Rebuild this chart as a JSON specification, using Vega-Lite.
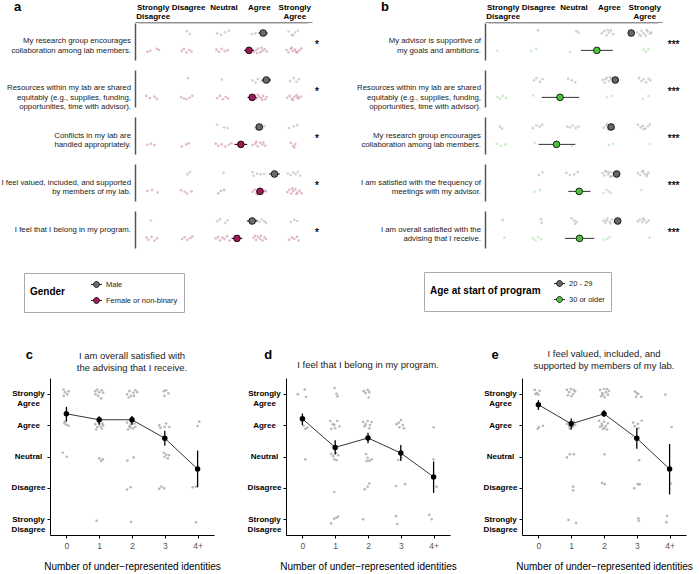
{
  "$schema": "https://vega.github.io/schema/vega-lite/v6.json",
  "padding": {"left": 1, "top": 1, "right": 0, "bottom": 0},
  "config": {
    "font": "Liberation Sans",
    "view": {"stroke": null},
    "axis": {"grid": false, "labelOverlap": false},
    "title": {"color": "black"}
  },
  "resolve": {"scale": {"color": "independent"}, "legend": {"color": "independent"}},
  "spacing": 36,
  "vconcat": [
    {
      "spacing": 38,
      "resolve": {"scale": {"color": "independent"}, "legend": {"color": "independent"}},
      "hconcat": [
        {
          "spacing": 4,
          "hconcat": [
            {
              "width": 81,
              "height": 225,
              "title": {"text": "a", "anchor": "start", "frame": "group", "fontSize": 13, "fontWeight": "bold", "dx": -36, "offset": 9},
              "data": {"values": [
                {"q": 1, "t": ["My research group encourages", "collaboration among lab members."]},
                {"q": 2, "t": ["Resources within my lab are shared", "equitably (e.g., supplies, funding,", "opportunities, time with advisor)."]},
                {"q": 3, "t": ["Conflicts in my lab are", "handled appropriately."]},
                {"q": 4, "t": ["I feel valued, included, and supported", "by members of my lab."]},
                {"q": 5, "t": ["I feel that I belong in my program."]}
              ]},
              "mark": {"type": "text", "align": "right", "baseline": "middle", "fontSize": 7.8, "lineHeight": 9.5, "color": "#222"},
              "encoding": {
                "x": {"datum": 1, "type": "quantitative", "scale": {"domain": [0, 1]}, "axis": null},
                "y": {"field": "q", "type": "ordinal", "scale": {"type": "point", "padding": 0.3936}, "axis": null},
                "text": {"field": "t"}
              }
            },
            {
              "data": {"values": [
                {"q":1,"g":"M","x":1.96,"y":0.78},{"q":1,"g":"M","x":2.05,"y":0.70},{"q":1,"g":"M","x":2.82,"y":0.72},{"q":1,"g":"M","x":2.93,"y":0.68},{"q":1,"g":"M","x":3.04,"y":0.75},{"q":1,"g":"M","x":3.15,"y":0.79},{"q":1,"g":"M","x":3.8,"y":0.70},{"q":1,"g":"M","x":3.9,"y":0.72},{"q":1,"g":"M","x":4.05,"y":0.76},{"q":1,"g":"M","x":4.2,"y":0.69},{"q":1,"g":"M","x":4.84,"y":0.77},{"q":1,"g":"M","x":4.93,"y":0.68},{"q":1,"g":"M","x":5.02,"y":0.74},{"q":1,"g":"M","x":5.1,"y":0.79},{"q":1,"g":"M","x":4.97,"y":0.66},
                {"q":1,"g":"F","x":0.85,"y":0.22},{"q":1,"g":"F","x":0.93,"y":0.25},{"q":1,"g":"F","x":1.12,"y":0.30},{"q":1,"g":"F","x":1.18,"y":0.27},{"q":1,"g":"F","x":1.82,"y":0.24},{"q":1,"g":"F","x":1.88,"y":0.30},{"q":1,"g":"F","x":1.95,"y":0.20},{"q":1,"g":"F","x":2.03,"y":0.27},{"q":1,"g":"F","x":2.1,"y":0.23},{"q":1,"g":"F","x":2.8,"y":0.28},{"q":1,"g":"F","x":2.87,"y":0.22},{"q":1,"g":"F","x":2.95,"y":0.30},{"q":1,"g":"F","x":3.03,"y":0.24},{"q":1,"g":"F","x":3.12,"y":0.26},{"q":1,"g":"F","x":3.8,"y":0.29},{"q":1,"g":"F","x":3.86,"y":0.22},{"q":1,"g":"F","x":3.92,"y":0.27},{"q":1,"g":"F","x":3.98,"y":0.31},{"q":1,"g":"F","x":4.04,"y":0.21},{"q":1,"g":"F","x":4.1,"y":0.25},{"q":1,"g":"F","x":4.16,"y":0.29},{"q":1,"g":"F","x":4.22,"y":0.23},{"q":1,"g":"F","x":3.95,"y":0.19},{"q":1,"g":"F","x":4.07,"y":0.33},{"q":1,"g":"F","x":4.78,"y":0.27},{"q":1,"g":"F","x":4.84,"y":0.21},{"q":1,"g":"F","x":4.9,"y":0.30},{"q":1,"g":"F","x":4.96,"y":0.24},{"q":1,"g":"F","x":5.02,"y":0.28},{"q":1,"g":"F","x":5.08,"y":0.20},{"q":1,"g":"F","x":5.14,"y":0.26},{"q":1,"g":"F","x":5.2,"y":0.31},{"q":1,"g":"F","x":4.93,"y":0.33},{"q":1,"g":"F","x":5.05,"y":0.22},
                {"q":2,"g":"M","x":2.0,"y":0.78},{"q":2,"g":"M","x":2.95,"y":0.74},{"q":2,"g":"M","x":3.82,"y":0.72},{"q":2,"g":"M","x":3.9,"y":0.66},{"q":2,"g":"M","x":3.97,"y":0.76},{"q":2,"g":"M","x":4.08,"y":0.70},{"q":2,"g":"M","x":4.16,"y":0.74},{"q":2,"g":"M","x":4.88,"y":0.70},{"q":2,"g":"M","x":4.98,"y":0.78},{"q":2,"g":"M","x":5.06,"y":0.68},{"q":2,"g":"M","x":5.13,"y":0.75},
                {"q":2,"g":"F","x":0.82,"y":0.30},{"q":2,"g":"F","x":0.92,"y":0.24},{"q":2,"g":"F","x":1.05,"y":0.28},{"q":2,"g":"F","x":1.12,"y":0.22},{"q":2,"g":"F","x":1.8,"y":0.27},{"q":2,"g":"F","x":1.88,"y":0.23},{"q":2,"g":"F","x":1.95,"y":0.21},{"q":2,"g":"F","x":2.04,"y":0.25},{"q":2,"g":"F","x":2.12,"y":0.30},{"q":2,"g":"F","x":2.82,"y":0.24},{"q":2,"g":"F","x":2.9,"y":0.30},{"q":2,"g":"F","x":2.98,"y":0.21},{"q":2,"g":"F","x":3.06,"y":0.27},{"q":2,"g":"F","x":3.13,"y":0.23},{"q":2,"g":"F","x":3.82,"y":0.26},{"q":2,"g":"F","x":3.88,"y":0.31},{"q":2,"g":"F","x":3.94,"y":0.22},{"q":2,"g":"F","x":4.0,"y":0.28},{"q":2,"g":"F","x":4.06,"y":0.24},{"q":2,"g":"F","x":4.12,"y":0.30},{"q":2,"g":"F","x":4.18,"y":0.21},{"q":2,"g":"F","x":4.22,"y":0.27},{"q":2,"g":"F","x":3.97,"y":0.33},{"q":2,"g":"F","x":4.09,"y":0.19},{"q":2,"g":"F","x":4.8,"y":0.25},{"q":2,"g":"F","x":4.87,"y":0.30},{"q":2,"g":"F","x":4.93,"y":0.22},{"q":2,"g":"F","x":5.0,"y":0.27},{"q":2,"g":"F","x":5.06,"y":0.32},{"q":2,"g":"F","x":5.12,"y":0.23},{"q":2,"g":"F","x":5.18,"y":0.28},{"q":2,"g":"F","x":4.96,"y":0.19},{"q":2,"g":"F","x":5.09,"y":0.26},
                {"q":3,"g":"M","x":2.82,"y":0.79},{"q":3,"g":"M","x":3.02,"y":0.72},{"q":3,"g":"M","x":3.12,"y":0.70},{"q":3,"g":"M","x":3.9,"y":0.70},{"q":3,"g":"M","x":4.0,"y":0.78},{"q":3,"g":"M","x":4.08,"y":0.68},{"q":3,"g":"M","x":4.15,"y":0.75},{"q":3,"g":"M","x":3.95,"y":0.66},{"q":3,"g":"M","x":4.85,"y":0.70},{"q":3,"g":"M","x":4.98,"y":0.75},{"q":3,"g":"M","x":5.08,"y":0.78},
                {"q":3,"g":"F","x":0.85,"y":0.25},{"q":3,"g":"F","x":0.95,"y":0.28},{"q":3,"g":"F","x":1.05,"y":0.24},{"q":3,"g":"F","x":1.82,"y":0.20},{"q":3,"g":"F","x":1.95,"y":0.26},{"q":3,"g":"F","x":2.02,"y":0.29},{"q":3,"g":"F","x":2.78,"y":0.28},{"q":3,"g":"F","x":2.85,"y":0.22},{"q":3,"g":"F","x":2.95,"y":0.26},{"q":3,"g":"F","x":3.05,"y":0.20},{"q":3,"g":"F","x":3.15,"y":0.25},{"q":3,"g":"F","x":3.22,"y":0.29},{"q":3,"g":"F","x":3.82,"y":0.24},{"q":3,"g":"F","x":3.9,"y":0.28},{"q":3,"g":"F","x":3.97,"y":0.21},{"q":3,"g":"F","x":4.04,"y":0.30},{"q":3,"g":"F","x":4.1,"y":0.25},{"q":3,"g":"F","x":4.18,"y":0.22},{"q":3,"g":"F","x":3.93,"y":0.33},{"q":3,"g":"F","x":4.13,"y":0.31},{"q":3,"g":"F","x":4.9,"y":0.30},{"q":3,"g":"F","x":4.97,"y":0.22},{"q":3,"g":"F","x":5.03,"y":0.27},{"q":3,"g":"F","x":5.0,"y":0.18},
                {"q":4,"g":"M","x":1.98,"y":0.72},{"q":4,"g":"M","x":2.05,"y":0.78},{"q":4,"g":"M","x":3.0,"y":0.76},{"q":4,"g":"M","x":3.82,"y":0.78},{"q":4,"g":"M","x":3.85,"y":0.68},{"q":4,"g":"M","x":3.95,"y":0.74},{"q":4,"g":"M","x":4.05,"y":0.72},{"q":4,"g":"M","x":4.15,"y":0.73},{"q":4,"g":"M","x":4.82,"y":0.74},{"q":4,"g":"M","x":4.9,"y":0.70},{"q":4,"g":"M","x":4.97,"y":0.77},{"q":4,"g":"M","x":5.04,"y":0.72},{"q":4,"g":"M","x":5.1,"y":0.79},{"q":4,"g":"M","x":5.16,"y":0.69},
                {"q":4,"g":"F","x":0.85,"y":0.27},{"q":4,"g":"F","x":0.98,"y":0.30},{"q":4,"g":"F","x":1.14,"y":0.23},{"q":4,"g":"F","x":1.8,"y":0.29},{"q":4,"g":"F","x":1.9,"y":0.25},{"q":4,"g":"F","x":1.97,"y":0.20},{"q":4,"g":"F","x":2.1,"y":0.26},{"q":4,"g":"F","x":2.85,"y":0.21},{"q":4,"g":"F","x":2.93,"y":0.27},{"q":4,"g":"F","x":3.02,"y":0.30},{"q":4,"g":"F","x":3.82,"y":0.25},{"q":4,"g":"F","x":3.88,"y":0.30},{"q":4,"g":"F","x":3.93,"y":0.21},{"q":4,"g":"F","x":3.99,"y":0.27},{"q":4,"g":"F","x":4.05,"y":0.33},{"q":4,"g":"F","x":4.1,"y":0.22},{"q":4,"g":"F","x":4.16,"y":0.28},{"q":4,"g":"F","x":3.96,"y":0.18},{"q":4,"g":"F","x":4.02,"y":0.24},{"q":4,"g":"F","x":4.2,"y":0.26},{"q":4,"g":"F","x":4.8,"y":0.24},{"q":4,"g":"F","x":4.86,"y":0.30},{"q":4,"g":"F","x":4.91,"y":0.20},{"q":4,"g":"F","x":4.97,"y":0.27},{"q":4,"g":"F","x":5.03,"y":0.32},{"q":4,"g":"F","x":5.09,"y":0.23},{"q":4,"g":"F","x":5.15,"y":0.28},{"q":4,"g":"F","x":5.2,"y":0.21},{"q":4,"g":"F","x":4.94,"y":0.34},{"q":4,"g":"F","x":5.06,"y":0.19},
                {"q":5,"g":"M","x":0.95,"y":0.74},{"q":5,"g":"M","x":2.82,"y":0.72},{"q":5,"g":"M","x":2.9,"y":0.78},{"q":5,"g":"M","x":3.05,"y":0.68},{"q":5,"g":"M","x":3.12,"y":0.75},{"q":5,"g":"M","x":3.95,"y":0.74},{"q":5,"g":"M","x":4.02,"y":0.70},{"q":5,"g":"M","x":4.08,"y":0.77},{"q":5,"g":"M","x":4.15,"y":0.72},{"q":5,"g":"M","x":4.2,"y":0.68},{"q":5,"g":"M","x":4.9,"y":0.70},{"q":5,"g":"M","x":5.0,"y":0.76},{"q":5,"g":"M","x":5.08,"y":0.73},
                {"q":5,"g":"F","x":0.82,"y":0.28},{"q":5,"g":"F","x":0.88,"y":0.22},{"q":5,"g":"F","x":0.97,"y":0.30},{"q":5,"g":"F","x":1.05,"y":0.20},{"q":5,"g":"F","x":1.12,"y":0.26},{"q":5,"g":"F","x":1.83,"y":0.24},{"q":5,"g":"F","x":1.9,"y":0.29},{"q":5,"g":"F","x":1.98,"y":0.22},{"q":5,"g":"F","x":2.06,"y":0.27},{"q":5,"g":"F","x":2.12,"y":0.31},{"q":5,"g":"F","x":2.78,"y":0.26},{"q":5,"g":"F","x":2.85,"y":0.30},{"q":5,"g":"F","x":2.9,"y":0.21},{"q":5,"g":"F","x":2.97,"y":0.28},{"q":5,"g":"F","x":3.03,"y":0.24},{"q":5,"g":"F","x":3.1,"y":0.32},{"q":5,"g":"F","x":3.17,"y":0.20},{"q":5,"g":"F","x":3.85,"y":0.28},{"q":5,"g":"F","x":3.92,"y":0.22},{"q":5,"g":"F","x":3.98,"y":0.30},{"q":5,"g":"F","x":4.04,"y":0.25},{"q":5,"g":"F","x":4.1,"y":0.20},{"q":5,"g":"F","x":4.16,"y":0.29},{"q":5,"g":"F","x":3.9,"y":0.33},{"q":5,"g":"F","x":4.06,"y":0.33},{"q":5,"g":"F","x":4.2,"y":0.24},{"q":5,"g":"F","x":4.85,"y":0.22},{"q":5,"g":"F","x":4.93,"y":0.28},{"q":5,"g":"F","x":5.0,"y":0.25},{"q":5,"g":"F","x":5.08,"y":0.30},{"q":5,"g":"F","x":5.12,"y":0.20},
                {"q":1,"g":"M","m":4.12,"lo":3.99,"hi":4.25,"y":0.73},{"q":1,"g":"F","m":3.72,"lo":3.58,"hi":3.86,"y":0.26},
                {"q":2,"g":"M","m":4.21,"lo":4.08,"hi":4.34,"y":0.73},{"q":2,"g":"F","m":3.81,"lo":3.68,"hi":3.94,"y":0.26},
                {"q":3,"g":"M","m":4.01,"lo":3.91,"hi":4.11,"y":0.73},{"q":3,"g":"F","m":3.49,"lo":3.31,"hi":3.67,"y":0.26},
                {"q":4,"g":"M","m":4.44,"lo":4.29,"hi":4.59,"y":0.73},{"q":4,"g":"F","m":4.03,"lo":3.93,"hi":4.13,"y":0.26},
                {"q":5,"g":"M","m":3.81,"lo":3.66,"hi":3.96,"y":0.73},{"q":5,"g":"F","m":3.38,"lo":3.23,"hi":3.53,"y":0.26},
                {"q":1,"s":"*"},{"q":2,"s":"*"},{"q":3,"s":"*"},{"q":4,"s":"*"},{"q":5,"s":"*"},
                {"q":1,"r":1}
              ]},
              "facet": {"row": {"field": "q", "type": "ordinal", "title": null, "header": {"labels": false}}},
              "spacing": {"row": 10},
              "spec": {
                "width": 177,
                "height": 37,
                "layer": [
                  {
                    "transform": [{"filter": "datum.x != null"}],
                    "mark": {"type": "circle", "size": 7, "fillOpacity": 0.3},
                    "encoding": {
                      "x": {"field": "x", "type": "quantitative", "title": null, "scale": {"domain": [0.6, 5.4]},
                        "axis": {"orient": "top", "values": [1, 2, 3, 4, 5], "tickCount": 5, "ticks": false, "domainColor": "#888", "domainWidth": 1.2, "labelFontWeight": "bold", "labelFontSize": 8, "labelColor": "black", "labelPadding": 11, "labelLineHeight": 9.5,
                          "labelExpr": "datum.value==1?['Strongly','Disagree']:datum.value==2?['Disagree','']:datum.value==3?['Neutral','']:datum.value==4?['Agree','']:['Strongly','Agree']"}},
                      "y": {"field": "y", "type": "quantitative", "title": null, "scale": {"domain": [0, 1]},
                        "axis": {"labels": false, "ticks": false, "domainColor": "#555", "domainWidth": 1.5}},
                      "color": {"field": "g", "type": "nominal", "scale": {"domain": ["M", "F"], "range": ["#6b6b6b", "#9e1a56"]}}
                    }
                  },
                  {
                    "transform": [{"filter": "datum.r != null"}],
                    "mark": {"type": "rule", "color": "#999", "strokeWidth": 1.2},
                    "encoding": {"x": {"datum": 0.6}, "x2": {"datum": 5.4}, "y": {"datum": 1}}
                  },
                  {
                    "transform": [{"filter": "datum.m != null"}],
                    "mark": {"type": "rule", "color": "black", "strokeWidth": 1},
                    "encoding": {"x": {"field": "lo", "type": "quantitative"}, "x2": {"field": "hi"}, "y": {"field": "y", "type": "quantitative"}}
                  },
                  {
                    "transform": [{"filter": "datum.m != null"}],
                    "mark": {"type": "circle", "size": 45, "opacity": 1, "stroke": "black", "strokeWidth": 0.8},
                    "encoding": {
                      "x": {"field": "m", "type": "quantitative"},
                      "y": {"field": "y", "type": "quantitative"},
                      "color": {"field": "g", "type": "nominal", "legend": {
                        "title": "Gender", "orient": "none", "legendX": -26, "legendY": 250, "direction": "vertical",
                        "titleOrient": "left", "titleFontSize": 10, "titleFontWeight": "bold", "titleColor": "black", "titlePadding": 25,
                        "labelFontSize": 7.5, "labelColor": "#222", "strokeColor": "#aaa", "padding": 6, "rowPadding": 5,
                        "symbolType": "M -1.1 0 L -0.6 0 M 0.6 0 L 1.1 0 M 0.6 0 A 0.6 0.6 0 1 1 -0.6 0 A 0.6 0.6 0 1 1 0.6 0 Z",
                        "symbolSize": 100, "symbolStrokeColor": "black", "symbolStrokeWidth": 0.8, "symbolOpacity": 1, "symbolFillOpacity": 1,
                        "labelExpr": "datum.value=='M'?'Male':'Female or non-binary'"
                      }}
                    }
                  },
                  {
                    "transform": [{"filter": "datum.s != null"}],
                    "mark": {"type": "text", "fontSize": 10, "fill": "black", "stroke": "black", "strokeWidth": 0.25, "baseline": "middle"},
                    "encoding": {"x": {"datum": 5.64}, "y": {"datum": 0.4}, "text": {"field": "s"}}
                  }
                ]
              }
            }
          ]
        },
        {
          "spacing": 4,
          "hconcat": [
            {
              "width": 121,
              "height": 225,
              "title": {"text": "b", "anchor": "start", "frame": "group", "fontSize": 13, "fontWeight": "bold", "dx": 21, "offset": 9},
              "data": {"values": [
                {"q": 1, "t": ["My advisor is supportive of", "my goals and ambitions."]},
                {"q": 2, "t": ["Resources within my lab are shared", "equitably (e.g., supplies, funding,", "opportunities, time with advisor)."]},
                {"q": 3, "t": ["My research group encourages", "collaboration among lab members."]},
                {"q": 4, "t": ["I am satisfied with the frequency of", "meetings with my advisor."]},
                {"q": 5, "t": ["I am overall satisfied with the", "advising that I receive."]}
              ]},
              "mark": {"type": "text", "align": "right", "baseline": "middle", "fontSize": 7.8, "lineHeight": 9.5, "color": "#222"},
              "encoding": {
                "x": {"datum": 1, "type": "quantitative", "scale": {"domain": [0, 1]}, "axis": null},
                "y": {"field": "q", "type": "ordinal", "scale": {"type": "point", "padding": 0.3936}, "axis": null},
                "text": {"field": "t"}
              }
            },
            {
              "data": {"values": [
                {"q":1,"g":"Y","x":2.0,"y":0.80},{"q":1,"g":"Y","x":3.08,"y":0.78},{"q":1,"g":"Y","x":3.14,"y":0.74},{"q":1,"g":"Y","x":3.8,"y":0.72},{"q":1,"g":"Y","x":3.87,"y":0.78},{"q":1,"g":"Y","x":3.93,"y":0.67},{"q":1,"g":"Y","x":4.0,"y":0.74},{"q":1,"g":"Y","x":4.06,"y":0.80},{"q":1,"g":"Y","x":4.12,"y":0.70},{"q":1,"g":"Y","x":3.97,"y":0.81},{"q":1,"g":"Y","x":4.8,"y":0.75},{"q":1,"g":"Y","x":4.86,"y":0.69},{"q":1,"g":"Y","x":4.92,"y":0.79},{"q":1,"g":"Y","x":4.98,"y":0.72},{"q":1,"g":"Y","x":5.04,"y":0.66},{"q":1,"g":"Y","x":5.1,"y":0.77},{"q":1,"g":"Y","x":5.16,"y":0.71},{"q":1,"g":"Y","x":4.9,"y":0.65},{"q":1,"g":"Y","x":5.07,"y":0.81},{"q":1,"g":"Y","x":5.2,"y":0.74},
                {"q":1,"g":"O","x":0.85,"y":0.25},{"q":1,"g":"O","x":1.8,"y":0.24},{"q":1,"g":"O","x":1.95,"y":0.30},{"q":1,"g":"O","x":2.9,"y":0.22},{"q":1,"g":"O","x":4.98,"y":0.28},{"q":1,"g":"O","x":5.05,"y":0.23},{"q":1,"g":"O","x":5.12,"y":0.30},
                {"q":2,"g":"Y","x":1.88,"y":0.72},{"q":2,"g":"Y","x":1.95,"y":0.78},{"q":2,"g":"Y","x":2.05,"y":0.68},{"q":2,"g":"Y","x":2.12,"y":0.75},{"q":2,"g":"Y","x":2.85,"y":0.76},{"q":2,"g":"Y","x":2.95,"y":0.72},{"q":2,"g":"Y","x":3.05,"y":0.67},{"q":2,"g":"Y","x":3.82,"y":0.73},{"q":2,"g":"Y","x":3.88,"y":0.66},{"q":2,"g":"Y","x":3.94,"y":0.79},{"q":2,"g":"Y","x":4.0,"y":0.70},{"q":2,"g":"Y","x":4.07,"y":0.76},{"q":2,"g":"Y","x":4.14,"y":0.68},{"q":2,"g":"Y","x":3.9,"y":0.75},{"q":2,"g":"Y","x":4.03,"y":0.80},{"q":2,"g":"Y","x":4.85,"y":0.78},{"q":2,"g":"Y","x":4.92,"y":0.70},{"q":2,"g":"Y","x":4.98,"y":0.75},{"q":2,"g":"Y","x":5.05,"y":0.67},{"q":2,"g":"Y","x":5.12,"y":0.77},{"q":2,"g":"Y","x":5.17,"y":0.72},
                {"q":2,"g":"O","x":0.85,"y":0.27},{"q":2,"g":"O","x":0.92,"y":0.22},{"q":2,"g":"O","x":1.0,"y":0.30},{"q":2,"g":"O","x":1.1,"y":0.25},{"q":2,"g":"O","x":1.87,"y":0.31},{"q":2,"g":"O","x":3.95,"y":0.27},{"q":2,"g":"O","x":4.08,"y":0.30},{"q":2,"g":"O","x":4.95,"y":0.22},{"q":2,"g":"O","x":5.12,"y":0.30},
                {"q":3,"g":"Y","x":0.92,"y":0.74},{"q":3,"g":"Y","x":0.98,"y":0.69},{"q":3,"g":"Y","x":1.85,"y":0.70},{"q":3,"g":"Y","x":1.95,"y":0.77},{"q":3,"g":"Y","x":2.05,"y":0.74},{"q":3,"g":"Y","x":2.12,"y":0.79},{"q":3,"g":"Y","x":2.82,"y":0.74},{"q":3,"g":"Y","x":2.9,"y":0.72},{"q":3,"g":"Y","x":2.98,"y":0.77},{"q":3,"g":"Y","x":3.06,"y":0.70},{"q":3,"g":"Y","x":3.14,"y":0.74},{"q":3,"g":"Y","x":3.85,"y":0.71},{"q":3,"g":"Y","x":3.92,"y":0.77},{"q":3,"g":"Y","x":3.98,"y":0.66},{"q":3,"g":"Y","x":4.04,"y":0.74},{"q":3,"g":"Y","x":4.1,"y":0.79},{"q":3,"g":"Y","x":3.95,"y":0.81},{"q":3,"g":"Y","x":4.0,"y":0.70},{"q":3,"g":"Y","x":4.14,"y":0.69},{"q":3,"g":"Y","x":4.82,"y":0.79},{"q":3,"g":"Y","x":4.9,"y":0.72},{"q":3,"g":"Y","x":4.96,"y":0.76},{"q":3,"g":"Y","x":5.03,"y":0.69},{"q":3,"g":"Y","x":5.1,"y":0.75},{"q":3,"g":"Y","x":5.16,"y":0.80},{"q":3,"g":"Y","x":4.98,"y":0.67},
                {"q":3,"g":"O","x":0.83,"y":0.28},{"q":3,"g":"O","x":0.95,"y":0.22},{"q":3,"g":"O","x":1.08,"y":0.26},{"q":3,"g":"O","x":1.9,"y":0.30},{"q":3,"g":"O","x":2.95,"y":0.22},{"q":3,"g":"O","x":4.0,"y":0.24},{"q":3,"g":"O","x":4.12,"y":0.27},{"q":3,"g":"O","x":5.15,"y":0.27},
                {"q":4,"g":"Y","x":2.02,"y":0.70},{"q":4,"g":"Y","x":2.12,"y":0.77},{"q":4,"g":"Y","x":2.8,"y":0.76},{"q":4,"g":"Y","x":2.9,"y":0.70},{"q":4,"g":"Y","x":3.02,"y":0.72},{"q":4,"g":"Y","x":3.12,"y":0.78},{"q":4,"g":"Y","x":3.82,"y":0.75},{"q":4,"g":"Y","x":3.87,"y":0.69},{"q":4,"g":"Y","x":3.93,"y":0.79},{"q":4,"g":"Y","x":3.98,"y":0.72},{"q":4,"g":"Y","x":4.04,"y":0.66},{"q":4,"g":"Y","x":4.1,"y":0.76},{"q":4,"g":"Y","x":4.15,"y":0.70},{"q":4,"g":"Y","x":3.9,"y":0.81},{"q":4,"g":"Y","x":4.01,"y":0.78},{"q":4,"g":"Y","x":4.08,"y":0.67},{"q":4,"g":"Y","x":4.82,"y":0.76},{"q":4,"g":"Y","x":4.88,"y":0.70},{"q":4,"g":"Y","x":4.94,"y":0.79},{"q":4,"g":"Y","x":5.0,"y":0.73},{"q":4,"g":"Y","x":5.06,"y":0.67},{"q":4,"g":"Y","x":5.12,"y":0.77},{"q":4,"g":"Y","x":4.97,"y":0.81},{"q":4,"g":"Y","x":5.08,"y":0.72},
                {"q":4,"g":"O","x":1.9,"y":0.25},{"q":4,"g":"O","x":2.05,"y":0.29},{"q":4,"g":"O","x":3.85,"y":0.22},{"q":4,"g":"O","x":3.93,"y":0.30},{"q":4,"g":"O","x":4.0,"y":0.26},{"q":4,"g":"O","x":4.06,"y":0.21},{"q":4,"g":"O","x":4.92,"y":0.30},
                {"q":5,"g":"Y","x":1.0,"y":0.76},{"q":5,"g":"Y","x":2.08,"y":0.78},{"q":5,"g":"Y","x":2.1,"y":0.68},{"q":5,"g":"Y","x":2.95,"y":0.80},{"q":5,"g":"Y","x":3.02,"y":0.74},{"q":5,"g":"Y","x":3.08,"y":0.70},{"q":5,"g":"Y","x":3.05,"y":0.65},{"q":5,"g":"Y","x":3.85,"y":0.74},{"q":5,"g":"Y","x":3.9,"y":0.68},{"q":5,"g":"Y","x":3.96,"y":0.80},{"q":5,"g":"Y","x":4.02,"y":0.71},{"q":5,"g":"Y","x":4.08,"y":0.77},{"q":5,"g":"Y","x":4.14,"y":0.70},{"q":5,"g":"Y","x":4.2,"y":0.75},{"q":5,"g":"Y","x":3.93,"y":0.74},{"q":5,"g":"Y","x":4.05,"y":0.66},{"q":5,"g":"Y","x":4.82,"y":0.72},{"q":5,"g":"Y","x":4.88,"y":0.77},{"q":5,"g":"Y","x":4.94,"y":0.70},{"q":5,"g":"Y","x":5.0,"y":0.75},{"q":5,"g":"Y","x":5.06,"y":0.69},{"q":5,"g":"Y","x":5.12,"y":0.74},{"q":5,"g":"Y","x":4.97,"y":0.80},
                {"q":5,"g":"O","x":1.05,"y":0.28},{"q":5,"g":"O","x":1.85,"y":0.26},{"q":5,"g":"O","x":1.93,"y":0.21},{"q":5,"g":"O","x":2.0,"y":0.30},{"q":5,"g":"O","x":2.08,"y":0.24},{"q":5,"g":"O","x":3.85,"y":0.22},{"q":5,"g":"O","x":3.95,"y":0.25},{"q":5,"g":"O","x":4.02,"y":0.29},{"q":5,"g":"O","x":5.15,"y":0.28},
                {"q":1,"g":"Y","m":4.63,"lo":4.56,"hi":4.70,"y":0.73},{"q":1,"g":"O","m":3.66,"lo":3.21,"hi":4.11,"y":0.26},
                {"q":2,"g":"Y","m":4.18,"lo":4.10,"hi":4.26,"y":0.73},{"q":2,"g":"O","m":2.62,"lo":2.10,"hi":3.16,"y":0.26},
                {"q":3,"g":"Y","m":4.06,"lo":3.98,"hi":4.14,"y":0.73},{"q":3,"g":"O","m":2.52,"lo":2.01,"hi":3.05,"y":0.26},
                {"q":4,"g":"Y","m":4.22,"lo":4.14,"hi":4.30,"y":0.73},{"q":4,"g":"O","m":3.16,"lo":2.85,"hi":3.48,"y":0.26},
                {"q":5,"g":"Y","m":4.25,"lo":4.17,"hi":4.33,"y":0.73},{"q":5,"g":"O","m":3.17,"lo":2.76,"hi":3.59,"y":0.26},
                {"q":1,"s":"***"},{"q":2,"s":"***"},{"q":3,"s":"***"},{"q":4,"s":"***"},{"q":5,"s":"***"},
                {"q":1,"r":1}
              ]},
              "facet": {"row": {"field": "q", "type": "ordinal", "title": null, "header": {"labels": false}}},
              "spacing": {"row": 10},
              "spec": {
                "width": 177,
                "height": 37,
                "layer": [
                  {
                    "transform": [{"filter": "datum.x != null"}],
                    "mark": {"type": "circle", "size": 7, "fillOpacity": 0.3},
                    "encoding": {
                      "x": {"field": "x", "type": "quantitative", "title": null, "scale": {"domain": [0.6, 5.4]},
                        "axis": {"orient": "top", "values": [1, 2, 3, 4, 5], "tickCount": 5, "ticks": false, "domainColor": "#888", "domainWidth": 1.2, "labelFontWeight": "bold", "labelFontSize": 8, "labelColor": "black", "labelPadding": 11, "labelLineHeight": 9.5,
                          "labelExpr": "datum.value==1?['Strongly','Disagree']:datum.value==2?['Disagree','']:datum.value==3?['Neutral','']:datum.value==4?['Agree','']:['Strongly','Agree']"}},
                      "y": {"field": "y", "type": "quantitative", "title": null, "scale": {"domain": [0, 1]},
                        "axis": {"labels": false, "ticks": false, "domainColor": "#555", "domainWidth": 1.5}},
                      "color": {"field": "g", "type": "nominal", "scale": {"domain": ["Y", "O"], "range": ["#666666", "#4cc23e"]}}
                    }
                  },
                  {
                    "transform": [{"filter": "datum.r != null"}],
                    "mark": {"type": "rule", "color": "#999", "strokeWidth": 1.2},
                    "encoding": {"x": {"datum": 0.6}, "x2": {"datum": 5.4}, "y": {"datum": 1}}
                  },
                  {
                    "transform": [{"filter": "datum.m != null"}],
                    "mark": {"type": "rule", "color": "#333", "strokeWidth": 1},
                    "encoding": {"x": {"field": "lo", "type": "quantitative"}, "x2": {"field": "hi"}, "y": {"field": "y", "type": "quantitative"}}
                  },
                  {
                    "transform": [{"filter": "datum.m != null"}],
                    "mark": {"type": "circle", "size": 45, "opacity": 1, "stroke": "black", "strokeWidth": 0.8},
                    "encoding": {
                      "x": {"field": "m", "type": "quantitative"},
                      "y": {"field": "y", "type": "quantitative"},
                      "color": {"field": "g", "type": "nominal", "legend": {
                        "title": "Age at start of program", "orient": "none", "legendX": 64, "legendY": 249, "direction": "vertical",
                        "titleOrient": "left", "titleFontSize": 10, "titleFontWeight": "bold", "titleColor": "black", "titlePadding": 13,
                        "labelFontSize": 7.5, "labelColor": "#222", "strokeColor": "#aaa", "padding": 6, "rowPadding": 5,
                        "symbolType": "M -1.1 0 L -0.6 0 M 0.6 0 L 1.1 0 M 0.6 0 A 0.6 0.6 0 1 1 -0.6 0 A 0.6 0.6 0 1 1 0.6 0 Z",
                        "symbolSize": 100, "symbolStrokeColor": "black", "symbolStrokeWidth": 0.8, "symbolOpacity": 1, "symbolFillOpacity": 1,
                        "labelExpr": "datum.value=='Y'?'20 - 29':'30 or older'"
                      }}
                    }
                  },
                  {
                    "transform": [{"filter": "datum.s != null"}],
                    "mark": {"type": "text", "fontSize": 10, "fill": "black", "stroke": "black", "strokeWidth": 0.25, "baseline": "middle"},
                    "encoding": {"x": {"datum": 5.83}, "y": {"datum": 0.4}, "text": {"field": "s"}}
                  }
                ]
              }
            }
          ]
        }
      ]
    },
    {
      "spacing": 26,
      "hconcat": [
        {
          "width": 164,
          "height": 157,
          "title": {"text": ["I am overall satisfied with", "the advising that I receive."], "fontSize": 9.5, "fontWeight": "normal", "color": "#222", "frame": "group", "offset": -23},
          "data": {"values": [
            {"x":0,"m":4.36,"lo":4.11,"hi":4.58},{"x":1,"m":4.17,"lo":4.01,"hi":4.28},{"x":2,"m":4.17,"lo":4.01,"hi":4.29},{"x":3,"m":3.58,"lo":3.34,"hi":3.82},{"x":4,"m":2.60,"lo":2.02,"hi":3.19}
          ]},
          "layer": [
            {
              "data": {"values": [
                {"x":-0.09,"y":5.13},{"x":-0.04,"y":5.05},{"x":0.03,"y":4.98},{"x":-0.08,"y":4.93},{"x":0.07,"y":5.08},{"x":-0.05,"y":4.11},{"x":0,"y":4.01},{"x":0.07,"y":3.98},{"x":-0.06,"y":4.05},{"x":-0.11,"y":3.12},{"x":0.01,"y":2.99},
                {"x":0.88,"y":5.08},{"x":0.94,"y":5.13},{"x":1.0,"y":5.05},{"x":1.08,"y":5.11},{"x":1.12,"y":5.03},{"x":0.97,"y":4.93},{"x":1.06,"y":4.85},{"x":0.89,"y":4.98},
                {"x":0.88,"y":4.03},{"x":0.94,"y":3.94},{"x":1.0,"y":4.05},{"x":1.08,"y":3.89},{"x":1.12,"y":3.99},{"x":0.91,"y":3.86},{"x":1.03,"y":3.96},{"x":0.97,"y":4.11},{"x":1.1,"y":4.05},
                {"x":1.0,"y":2.94},{"x":1.06,"y":2.86},{"x":1.11,"y":2.91},{"x":0.92,"y":0.95},
                {"x":1.85,"y":4.98},{"x":1.92,"y":5.08},{"x":1.97,"y":4.93},{"x":2.04,"y":5.03},{"x":2.1,"y":5.11},{"x":2.16,"y":5.05},{"x":1.9,"y":4.88},{"x":2.06,"y":4.93},
                {"x":1.85,"y":4.08},{"x":1.92,"y":3.96},{"x":1.97,"y":4.03},{"x":2.03,"y":3.89},{"x":2.08,"y":4.05},{"x":1.88,"y":3.86},{"x":1.99,"y":4.11},{"x":1.95,"y":3.92},{"x":2.1,"y":3.94},
                {"x":1.86,"y":2.87},{"x":2.05,"y":2.97},{"x":1.85,"y":1.95},{"x":1.96,"y":2.02},{"x":1.97,"y":0.92},
                {"x":2.97,"y":5.08},{"x":3.04,"y":5.11},{"x":3.11,"y":5.01},{"x":2.99,"y":4.93},{"x":2.83,"y":3.99},{"x":2.87,"y":3.91},{"x":2.99,"y":3.94},{"x":3.04,"y":4.05},{"x":3.14,"y":3.94},
                {"x":2.97,"y":3.12},{"x":3.04,"y":3.06},{"x":2.99,"y":2.99},{"x":3.09,"y":2.94},{"x":3.13,"y":3.04},{"x":2.83,"y":1.97},{"x":2.9,"y":2.04},{"x":2.98,"y":1.99},
                {"x":4.0,"y":3.97},{"x":4.05,"y":4.11},{"x":3.85,"y":2.02},{"x":3.95,"y":2.04},{"x":3.95,"y":0.9}
              ]},
              "mark": {"type": "circle", "size": 7, "color": "#8a8a8a", "opacity": 0.6},
              "encoding": {
                "x": {"field": "x", "type": "quantitative", "title": "Number of under−represented identities", "scale": {"domain": [-0.35, 4.2]},
                  "axis": {"values": [0, 1, 2, 3, 4], "tickCount": 5, "labelExpr": "datum.value==4?'4+':datum.label", "tickSize": 3, "tickColor": "black", "domainColor": "black", "labelColor": "#555", "labelFontSize": 8.5, "titleFontSize": 10, "titleFontWeight": "normal", "titleColor": "black", "titlePadding": 12, "labelPadding": 3}},
                "y": {"field": "y", "type": "quantitative", "title": null, "scale": {"domain": [0.65, 5.33]},
                  "axis": {"values": [1, 2, 3, 4, 5], "tickCount": 5, "labelOverlap": false, "labelExpr": "datum.value==5?['Strongly','Agree']:datum.value==4?'Agree':datum.value==3?'Neutral':datum.value==2?'Disagree':['Strongly','Disagree']", "tickSize": 3, "tickColor": "black", "domainColor": "black", "labelColor": "black", "labelFontSize": 8, "labelFontWeight": "bold", "labelAlign": "center", "labelPadding": 19}}
              }
            },
            {"mark": {"type": "line", "color": "black", "strokeWidth": 0.8}, "encoding": {"x": {"field": "x", "type": "quantitative"}, "y": {"field": "m", "type": "quantitative"}}},
            {"mark": {"type": "rule", "color": "black", "strokeWidth": 1.3}, "encoding": {"x": {"field": "x", "type": "quantitative"}, "y": {"field": "lo", "type": "quantitative"}, "y2": {"field": "hi"}}},
            {"mark": {"type": "circle", "size": 30, "color": "black", "opacity": 1}, "encoding": {"x": {"field": "x", "type": "quantitative"}, "y": {"field": "m", "type": "quantitative"}}},
            {"data": {"values": [{"l": "c"}]}, "mark": {"type": "text", "fontSize": 13, "fontWeight": "bold", "baseline": "middle"}, "encoding": {"x": {"datum": -1.13}, "y": {"datum": 6.22}, "text": {"field": "l"}}}
          ]
        },
        {
          "width": 164,
          "height": 157,
          "title": {"text": "I feel that I belong in my program.", "fontSize": 9.5, "fontWeight": "normal", "color": "#222", "frame": "group", "offset": -20},
          "data": {"values": [
            {"x":0,"m":4.20,"lo":4.00,"hi":4.37},{"x":1,"m":3.29,"lo":3.06,"hi":3.52},{"x":2,"m":3.59,"lo":3.42,"hi":3.76},{"x":3,"m":3.11,"lo":2.86,"hi":3.37},{"x":4,"m":2.35,"lo":1.84,"hi":2.84}
          ]},
          "layer": [
            {
              "data": {"values": [
                {"x":-0.14,"y":4.98},{"x":0.07,"y":5.13},{"x":0.11,"y":4.9},{"x":0.03,"y":3.98},{"x":0.09,"y":3.88},{"x":0.15,"y":3.92},{"x":0.09,"y":2.91},
                {"x":0.98,"y":5.18},{"x":1.04,"y":5.0},{"x":1.07,"y":4.92},{"x":0.85,"y":4.13},{"x":0.93,"y":4.03},{"x":1.0,"y":3.9},{"x":1.06,"y":4.13},{"x":1.13,"y":3.96},{"x":0.88,"y":3.88},{"x":0.97,"y":4.0},
                {"x":0.88,"y":3.08},{"x":0.94,"y":3.01},{"x":1.02,"y":3.11},{"x":1.09,"y":3.04},{"x":0.97,"y":2.91},{"x":1.04,"y":2.88},{"x":0.97,"y":1.87},{"x":0.88,"y":0.87},{"x":0.97,"y":1.02},{"x":1.04,"y":1.05},{"x":1.09,"y":1.09},
                {"x":1.87,"y":5.08},{"x":1.93,"y":5.02},{"x":1.99,"y":5.12},{"x":2.04,"y":5.05},{"x":2.02,"y":4.88},{"x":1.85,"y":4.1},{"x":1.93,"y":4.03},{"x":1.99,"y":4.13},{"x":2.06,"y":4.0},{"x":2.11,"y":4.1},{"x":2.04,"y":3.9},{"x":1.9,"y":3.96},
                {"x":1.94,"y":3.08},{"x":1.99,"y":2.96},{"x":2.04,"y":2.86},{"x":2.11,"y":2.91},{"x":1.96,"y":2.86},{"x":1.9,"y":1.96},{"x":1.99,"y":2.04},{"x":2.04,"y":2.14},{"x":1.85,"y":1.0},
                {"x":2.87,"y":4.03},{"x":2.94,"y":4.08},{"x":3.01,"y":4.16},{"x":3.06,"y":4.0},{"x":3.1,"y":3.9},{"x":2.96,"y":3.93},{"x":2.92,"y":2.89},{"x":3.01,"y":2.96},{"x":2.85,"y":2.06},{"x":3.13,"y":2.12},{"x":2.85,"y":1.1},{"x":2.89,"y":0.85},
                {"x":4.0,"y":3.93},{"x":4.0,"y":2.91},{"x":4.09,"y":2.04},{"x":3.87,"y":1.14},{"x":3.94,"y":1.0}
              ]},
              "mark": {"type": "circle", "size": 7, "color": "#8a8a8a", "opacity": 0.6},
              "encoding": {
                "x": {"field": "x", "type": "quantitative", "title": "Number of under−represented identities", "scale": {"domain": [-0.35, 4.2]},
                  "axis": {"values": [0, 1, 2, 3, 4], "tickCount": 5, "labelExpr": "datum.value==4?'4+':datum.label", "tickSize": 3, "tickColor": "black", "domainColor": "black", "labelColor": "#555", "labelFontSize": 8.5, "titleFontSize": 10, "titleFontWeight": "normal", "titleColor": "black", "titlePadding": 12, "labelPadding": 3}},
                "y": {"field": "y", "type": "quantitative", "title": null, "scale": {"domain": [0.65, 5.33]},
                  "axis": {"values": [1, 2, 3, 4, 5], "tickCount": 5, "labelOverlap": false, "labelExpr": "datum.value==5?['Strongly','Agree']:datum.value==4?'Agree':datum.value==3?'Neutral':datum.value==2?'Disagree':['Strongly','Disagree']", "tickSize": 3, "tickColor": "black", "domainColor": "black", "labelColor": "black", "labelFontSize": 8, "labelFontWeight": "bold", "labelAlign": "center", "labelPadding": 19}}
              }
            },
            {"mark": {"type": "line", "color": "black", "strokeWidth": 0.8}, "encoding": {"x": {"field": "x", "type": "quantitative"}, "y": {"field": "m", "type": "quantitative"}}},
            {"mark": {"type": "rule", "color": "black", "strokeWidth": 1.3}, "encoding": {"x": {"field": "x", "type": "quantitative"}, "y": {"field": "lo", "type": "quantitative"}, "y2": {"field": "hi"}}},
            {"mark": {"type": "circle", "size": 30, "color": "black", "opacity": 1}, "encoding": {"x": {"field": "x", "type": "quantitative"}, "y": {"field": "m", "type": "quantitative"}}},
            {"data": {"values": [{"l": "d"}]}, "mark": {"type": "text", "fontSize": 13, "fontWeight": "bold", "baseline": "middle"}, "encoding": {"x": {"datum": -1.04}, "y": {"datum": 6.22}, "text": {"field": "l"}}}
          ]
        },
        {
          "width": 164,
          "height": 157,
          "title": {"text": ["I feel valued, included, and", "supported by members of my lab."], "fontSize": 9.5, "fontWeight": "normal", "color": "#222", "frame": "group", "offset": -21},
          "data": {"values": [
            {"x":0,"m":4.65,"lo":4.48,"hi":4.79},{"x":1,"m":4.04,"lo":3.86,"hi":4.21},{"x":2,"m":4.36,"lo":4.26,"hi":4.48},{"x":3,"m":3.58,"lo":3.25,"hi":3.91},{"x":4,"m":2.60,"lo":1.79,"hi":3.40}
          ]},
          "layer": [
            {
              "data": {"values": [
                {"x":-0.11,"y":5.12},{"x":-0.05,"y":5.02},{"x":0,"y":4.97},{"x":-0.09,"y":4.99},{"x":0.04,"y":5.09},{"x":-0.02,"y":3.88},{"x":0.02,"y":3.94},{"x":0.14,"y":3.98},
                {"x":0.87,"y":5.12},{"x":0.94,"y":5.05},{"x":0.99,"y":5.15},{"x":1.06,"y":4.99},{"x":1.12,"y":5.07},{"x":0.9,"y":4.95},{"x":1.01,"y":4.92},{"x":1.08,"y":5.12},
                {"x":0.87,"y":4.04},{"x":0.94,"y":3.96},{"x":0.99,"y":4.08},{"x":1.06,"y":3.94},{"x":1.12,"y":4.01},{"x":0.96,"y":3.88},{"x":1.08,"y":4.11},
                {"x":0.87,"y":2.97},{"x":0.96,"y":3.07},{"x":1.08,"y":3.07},{"x":1.06,"y":2.04},{"x":1.06,"y":1.92},{"x":0.92,"y":0.98},{"x":1.15,"y":0.88},
                {"x":1.88,"y":5.12},{"x":1.94,"y":5.02},{"x":2.0,"y":5.15},{"x":2.06,"y":5.05},{"x":2.12,"y":4.97},{"x":1.91,"y":4.92},{"x":2.02,"y":4.89},{"x":2.15,"y":5.09},{"x":1.97,"y":4.97},{"x":2.09,"y":5.15},
                {"x":1.85,"y":4.14},{"x":1.93,"y":4.04},{"x":2.0,"y":4.11},{"x":2.06,"y":3.98},{"x":2.12,"y":4.06},{"x":1.88,"y":3.94},{"x":1.97,"y":3.88},{"x":2.02,"y":3.91},{"x":2.09,"y":3.86},{"x":1.94,"y":3.98},
                {"x":2.02,"y":3.07},{"x":1.94,"y":2.16},{"x":2.02,"y":2.12},
                {"x":2.94,"y":5.07},{"x":3.0,"y":5.02},{"x":3.04,"y":4.99},{"x":3.14,"y":4.9},{"x":2.98,"y":4.9},{"x":2.89,"y":4.08},{"x":3.03,"y":4.04},{"x":3.15,"y":4.14},{"x":2.94,"y":3.96},{"x":3.05,"y":3.9},
                {"x":3.07,"y":2.88},{"x":2.92,"y":1.99},{"x":3.03,"y":2.12},{"x":3.09,"y":2.11},{"x":3.05,"y":1.03},{"x":3.06,"y":0.95},
                {"x":3.87,"y":4.97},{"x":4.06,"y":3.94},{"x":4.04,"y":2.14},{"x":3.92,"y":1.11},{"x":3.9,"y":0.91}
              ]},
              "mark": {"type": "circle", "size": 7, "color": "#8a8a8a", "opacity": 0.6},
              "encoding": {
                "x": {"field": "x", "type": "quantitative", "title": "Number of under−represented identities", "scale": {"domain": [-0.35, 4.2]},
                  "axis": {"values": [0, 1, 2, 3, 4], "tickCount": 5, "labelExpr": "datum.value==4?'4+':datum.label", "tickSize": 3, "tickColor": "black", "domainColor": "black", "labelColor": "#555", "labelFontSize": 8.5, "titleFontSize": 10, "titleFontWeight": "normal", "titleColor": "black", "titlePadding": 12, "labelPadding": 3}},
                "y": {"field": "y", "type": "quantitative", "title": null, "scale": {"domain": [0.65, 5.33]},
                  "axis": {"values": [1, 2, 3, 4, 5], "tickCount": 5, "labelOverlap": false, "labelExpr": "datum.value==5?['Strongly','Agree']:datum.value==4?'Agree':datum.value==3?'Neutral':datum.value==2?'Disagree':['Strongly','Disagree']", "tickSize": 3, "tickColor": "black", "domainColor": "black", "labelColor": "black", "labelFontSize": 8, "labelFontWeight": "bold", "labelAlign": "center", "labelPadding": 19}}
              }
            },
            {"mark": {"type": "line", "color": "black", "strokeWidth": 0.8}, "encoding": {"x": {"field": "x", "type": "quantitative"}, "y": {"field": "m", "type": "quantitative"}}},
            {"mark": {"type": "rule", "color": "black", "strokeWidth": 1.3}, "encoding": {"x": {"field": "x", "type": "quantitative"}, "y": {"field": "lo", "type": "quantitative"}, "y2": {"field": "hi"}}},
            {"mark": {"type": "circle", "size": 30, "color": "black", "opacity": 1}, "encoding": {"x": {"field": "x", "type": "quantitative"}, "y": {"field": "m", "type": "quantitative"}}},
            {"data": {"values": [{"l": "e"}]}, "mark": {"type": "text", "fontSize": 13, "fontWeight": "bold", "baseline": "middle"}, "encoding": {"x": {"datum": -1.32}, "y": {"datum": 6.22}, "text": {"field": "l"}}}
          ]
        }
      ]
    }
  ]
}
